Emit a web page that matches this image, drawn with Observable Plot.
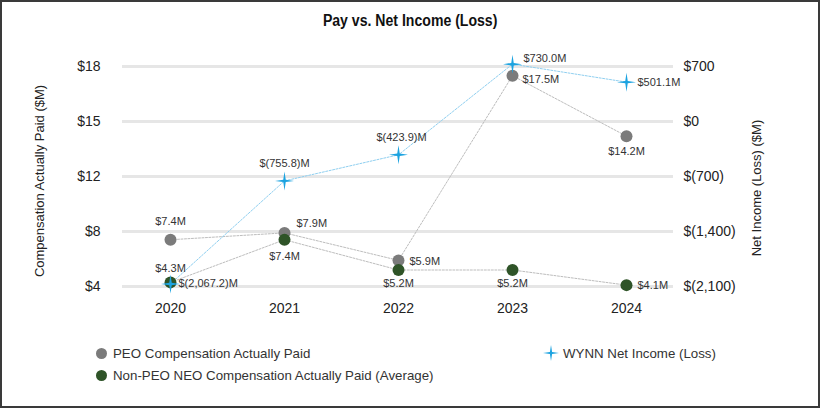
<!DOCTYPE html>
<html>
<head>
<meta charset="utf-8">
<script src="https://cdn.jsdelivr.net/npm/d3@7"></script>
<script src="https://cdn.jsdelivr.net/npm/@observablehq/plot@0.6"></script>
<style>
  html, body { margin: 0; padding: 0; background: #fff; }
  body { width: 820px; height: 408px; position: relative; overflow: hidden; font-family: "Liberation Sans", Arial, sans-serif; color: #222; }
  #frame { position: absolute; left: 0; top: 0; width: 820px; height: 408px; box-sizing: border-box; border: 2px solid #3a3a3a; pointer-events: none; }
  #title { position: absolute; left: 0; top: 11px; width: 820px; text-align: center; line-height: 20px; }
  #title span { display: inline-block; transform: scaleX(0.88); font-family: "Liberation Sans", Arial, sans-serif; font-weight: bold; font-size: 16px; color: #111; }
  #chart { position: absolute; left: 0; top: 0; }
  .atitle { position: absolute; white-space: nowrap; font-size: 13px; color: #222; transform: translate(-50%, -50%) rotate(-90deg); line-height: 16px; }
  .leg { position: absolute; display: flex; align-items: center; height: 20px; font-size: 13.3px; color: #333; white-space: nowrap; }
  .leg .sw { width: 18px; display: flex; justify-content: center; align-items: center; margin-right: 3px; }
  .leg .dot { width: 11px; height: 11px; border-radius: 50%; }
</style>
</head>
<body>
<div id="chart"></div>
<div id="title"><span>Pay vs. Net Income (Loss)</span></div>
<div class="atitle" id="ytitleLeft" style="left:40px; top:181px;"></div>
<div class="atitle" id="ytitleRight" style="left:757px; top:188px;"></div>
<div id="legend"></div>
<div id="frame"></div>
<script>
// ---- data ----
const years = ["2020", "2021", "2022", "2023", "2024"];
const peo = [7.4, 7.9, 5.9, 17.5, 14.2];
const nonPeo = [4.3, 7.4, 5.2, 5.2, 4.1];
const netIncome = [-2067.2, -755.8, -423.9, 730.0, 501.1];
const compTicks = [4, 8, 12, 15, 18];
const netTicks = [-2100, -1400, -700, 0, 700];
const seriesNames = ["PEO Compensation Actually Paid", "Non-PEO NEO Compensation Actually Paid (Average)", "WYNN Net Income (Loss)"];
const axisTitles = ["Compensation Actually Paid ($M)", "Net Income (Loss) ($M)"];

// ---- styles ----
const colors = { peo: "#7b7b7b", nonPeo: "#2f5428", net: "#1ca3e0", peoLine: "#bdbdbd", netLine: "#8fcff0", grid: "#e6e6e6" };
// label placement: [textAnchor, dx, dy]
const peoPlace = [["middle", 0, -18], ["start", 12, -9], ["start", 11, 1], ["start", 10, 4], ["middle", 0, 15]];
const nonPeoPlace = [["middle", 0, -14], ["middle", 0, 17], ["middle", 0, 13], ["middle", 0, 13], ["start", 11, 0]];
const netPlace = [["start", 8, 0], ["middle", 0, -17], ["middle", 3, -17], ["start", 11, -6], ["start", 11, 0]];

// ---- helpers ----
const compToNet = d3.scaleLinear().domain(compTicks).range(netTicks);
const netToComp = d3.scaleLinear().domain(netTicks).range(compTicks);
const fmtComp = v => `$${v.toFixed(1)}M`;
const fmtNet = v => v < 0 ? `$(${d3.format(",.1f")(-v)})M` : `$${d3.format(",.1f")(v)}M`;
const fmtNetTick = v => { v = Math.round(v); return v < 0 ? `$(${d3.format(",")(-v)})` : `$${d3.format(",")(v)}`; };

const sparkle = {
  draw(ctx, size) {
    const R = Math.sqrt(size / Math.PI), k = R * 0.13;
    ctx.moveTo(0, -R); ctx.lineTo(k, -k); ctx.lineTo(R, 0); ctx.lineTo(k, k);
    ctx.lineTo(0, R); ctx.lineTo(-k, k); ctx.lineTo(-R, 0); ctx.lineTo(-k, -k); ctx.closePath();
  }
};

const peoData = years.map((year, i) => ({ year, v: peo[i], label: fmtComp(peo[i]), place: peoPlace[i] }));
const nonPeoData = years.map((year, i) => ({ year, v: nonPeo[i], label: fmtComp(nonPeo[i]), place: nonPeoPlace[i] }));
const netData = years.map((year, i) => ({ year, v: netToComp(netIncome[i]), label: fmtNet(netIncome[i]), place: netPlace[i] }));

const labelMarks = [...peoData, ...nonPeoData, ...netData].map(d =>
  Plot.text([d], { x: "year", y: "v", text: "label", textAnchor: d.place[0], dx: d.place[1], dy: d.place[2], fontSize: 11, fill: "#333" })
);

const chart = Plot.plot({
  width: 820,
  height: 330,
  marginTop: 66,
  marginBottom: 44,
  marginLeft: 122,
  marginRight: 147,
  style: { fontFamily: "'Liberation Sans', Arial, sans-serif", fontSize: "11px", color: "#222", background: "transparent" },
  x: { type: "point", domain: years, padding: 0.41, axis: null },
  y: { type: "linear", domain: compTicks, axis: null },
  marks: [
    Plot.ruleY(compTicks, { stroke: colors.grid, strokeWidth: 3 }),
    Plot.axisY(compTicks, { anchor: "left", tickSize: 0, tickPadding: 22, tickFormat: d => `$${d}`, fontSize: 14, fill: "#222", label: null }),
    Plot.axisY(netTicks.map(netToComp), { anchor: "right", tickSize: 0, tickPadding: 10, tickFormat: d => fmtNetTick(compToNet(d)), fontSize: 14, fill: "#222", label: null }),
    Plot.axisX(years, { anchor: "bottom", tickSize: 0, tickPadding: 17, fontSize: 14, fill: "#222", label: null }),
    Plot.line(peoData, { x: "year", y: "v", stroke: colors.peoLine, strokeWidth: 1, strokeDasharray: "2,1.5" }),
    Plot.line(nonPeoData, { x: "year", y: "v", stroke: colors.peoLine, strokeWidth: 1, strokeDasharray: "2,1.5" }),
    Plot.line(netData, { x: "year", y: "v", stroke: colors.netLine, strokeWidth: 1, strokeDasharray: "2,1.5" }),
    Plot.dot(peoData, { x: "year", y: "v", r: 6, fill: colors.peo }),
    Plot.dot(nonPeoData, { x: "year", y: "v", r: 6, fill: colors.nonPeo }),
    Plot.dot(netData, { x: "year", y: "v", r: 9.5, symbol: sparkle, fill: colors.net }),
    ...labelMarks
  ]
});
document.getElementById("chart").appendChild(chart);
document.getElementById("ytitleLeft").textContent = axisTitles[0];
document.getElementById("ytitleRight").textContent = axisTitles[1];

// ---- legend ----
const legend = document.getElementById("legend");
const starSvg = `<svg width="18" height="18" viewBox="-9 -9 18 18"><path d="M0,-8L1.1,-1.1L8,0L1.1,1.1L0,8L-1.1,1.1L-8,0L-1.1,-1.1Z" fill="${colors.net}"/></svg>`;
const items = [
  { name: seriesNames[0], sw: `<div class="dot" style="background:${colors.peo}"></div>`, left: 92, top: 343 },
  { name: seriesNames[1], sw: `<div class="dot" style="background:${colors.nonPeo}"></div>`, left: 92, top: 365 },
  { name: seriesNames[2], sw: starSvg, left: 542, top: 343 }
];
for (const it of items) {
  const el = document.createElement("div");
  el.className = "leg";
  el.style.left = it.left + "px";
  el.style.top = it.top + "px";
  el.innerHTML = `<div class="sw">${it.sw}</div><span>${it.name}</span>`;
  legend.appendChild(el);
}
</script>
</body>
</html>
